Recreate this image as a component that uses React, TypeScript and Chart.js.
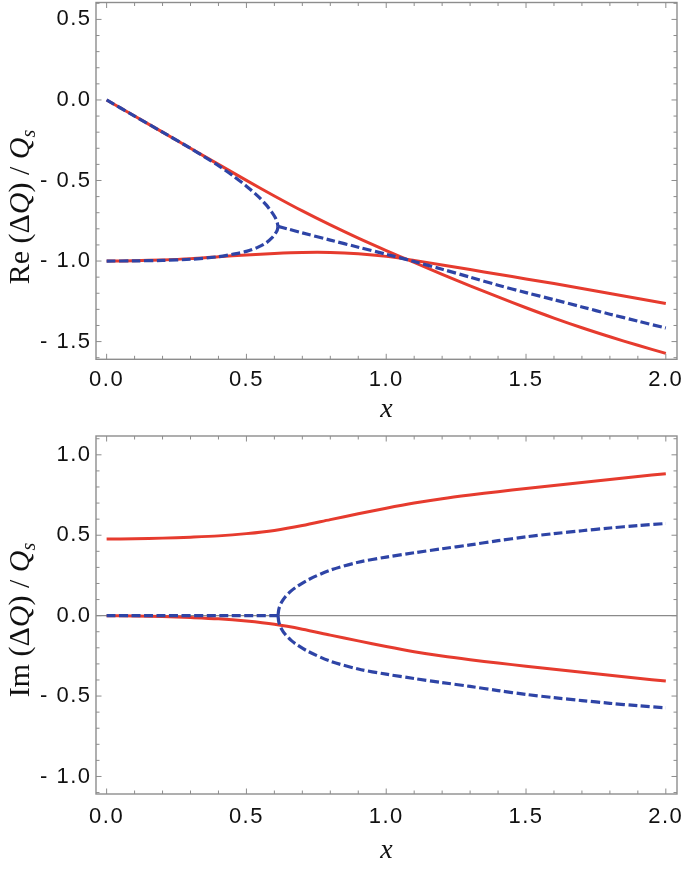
import React, { useEffect, useRef } from "react";
import { Chart, registerables } from "chart.js";
Chart.register(...registerables);

// ---------- data ----------
const xGrid = [0, 0.1, 0.2, 0.3, 0.4, 0.5, 0.6, 0.7, 0.8, 0.9, 1.0, 1.1, 1.2, 1.3, 1.4, 1.5, 1.6, 1.7, 1.8, 1.9, 2.0];

// Re panel, red solid curves
const reRedA = [0, -0.1, -0.2, -0.3, -0.4, -0.499, -0.596, -0.689, -0.776, -0.858, -0.935, -1.009, -1.083, -1.154, -1.223, -1.29, -1.354, -1.414, -1.47, -1.523, -1.573];
const reRedB = [-1.0, -0.998, -0.993, -0.985, -0.973, -0.962, -0.953, -0.947, -0.947, -0.955, -0.971, -0.996, -1.024, -1.053, -1.082, -1.111, -1.14, -1.17, -1.201, -1.232, -1.263];

// Re panel, blue dashed curves
const reBlueUpperX = [0, 0.1, 0.2, 0.3, 0.35, 0.4, 0.45, 0.5, 0.54, 0.57, 0.59, 0.603, 0.61, 0.613];
const reBlueUpperY = [0, -0.1, -0.2, -0.3, -0.353, -0.408, -0.468, -0.535, -0.595, -0.65, -0.695, -0.73, -0.76, -0.785];
const reBlueLowerX = [0, 0.1, 0.2, 0.3, 0.4, 0.45, 0.5, 0.54, 0.57, 0.59, 0.603, 0.61, 0.613];
const reBlueLowerY = [-1.0, -0.999, -0.996, -0.989, -0.973, -0.958, -0.94, -0.915, -0.888, -0.858, -0.83, -0.81, -0.785];
const reBlueMergedX = [0.613, 0.65, 0.7, 0.8, 0.9, 1.0, 1.1, 1.2, 1.3, 1.4, 1.5, 1.6, 1.7, 1.8, 1.9, 2.0];
const reBlueMergedY = [-0.785, -0.802, -0.825, -0.87, -0.914, -0.958, -1.003, -1.051, -1.1, -1.15, -1.196, -1.24, -1.285, -1.33, -1.373, -1.416];

// Im panel, red solid curves
const imRedUpper = [0.476, 0.478, 0.482, 0.488, 0.496, 0.51, 0.53, 0.56, 0.597, 0.633, 0.668, 0.7, 0.727, 0.75, 0.771, 0.79, 0.809, 0.828, 0.846, 0.865, 0.883];
const imRedLower = [0, -0.002, -0.006, -0.012, -0.02, -0.034, -0.054, -0.084, -0.121, -0.157, -0.192, -0.224, -0.251, -0.274, -0.295, -0.314, -0.333, -0.352, -0.37, -0.389, -0.407];

// Im panel, blue dashed curves
const imBlueZeroX = [0, 0.613];
const imBlueZeroY = [0, 0];
const imBlueX = [0.613, 0.616, 0.625, 0.64, 0.66, 0.68, 0.72, 0.8, 0.9, 1.0, 1.1, 1.2, 1.3, 1.4, 1.5, 1.6, 1.7, 1.8, 1.9, 2.0];
const imBlueUpper = [0, 0.041, 0.081, 0.119, 0.154, 0.18, 0.222, 0.283, 0.332, 0.364, 0.391, 0.416, 0.44, 0.466, 0.49, 0.51, 0.528, 0.545, 0.56, 0.573];
const imBlueLower = [0, -0.041, -0.081, -0.119, -0.154, -0.18, -0.222, -0.283, -0.332, -0.364, -0.391, -0.416, -0.44, -0.466, -0.49, -0.51, -0.528, -0.545, -0.56, -0.573];

// ticks
const xTicks = [0, 0.5, 1.0, 1.5, 2.0];
const reTicks = [-1.5, -1.0, -0.5, 0, 0.5];
const imTicks = [-1.0, -0.5, 0, 0.5, 1.0];

// ---------- styling ----------
const RED = "#e63b2e";
const BLUE = "#2e44a6";
const FRAME = "#8d8d8d";
const W = 685;
const SERIF = "'Liberation Serif', 'Times New Roman', serif";
const SANS = "'Liberation Sans', Arial, sans-serif";

const pts = (xs: number[], ys: number[]) => xs.map((x, i) => ({ x, y: ys[i] }));

const fmt = (v: number) => (v < 0 ? "- " + Math.abs(v).toFixed(1) : v.toFixed(1));

type Seg = { t: string; italic?: boolean; sub?: boolean };

function framePlugin(opts: {
  yLabel: Seg[];
  yLabelCenter: number;
  xLabelBaseline: number;
  zeroLine: boolean;
}) {
  return {
    id: "frameAndLabels",
    beforeDraw(chart: any) {
      (chart.ctx as any).letterSpacing = "1.5px";
    },
    beforeDatasetsDraw(chart: any) {
      if (!opts.zeroLine) return;
      const { ctx, chartArea: a, scales } = chart;
      const y0 = scales.y.getPixelForValue(0);
      ctx.save();
      ctx.strokeStyle = "#8a8a8a";
      ctx.lineWidth = 1.2;
      ctx.beginPath();
      ctx.moveTo(a.left, y0);
      ctx.lineTo(a.right, y0);
      ctx.stroke();
      ctx.restore();
    },
    afterDraw(chart: any) {
      const { ctx, chartArea: a, scales } = chart;
      (ctx as any).letterSpacing = "0px";
      const xs = scales.x;
      const ys = scales.y;
      ctx.save();
      // frame
      ctx.strokeStyle = FRAME;
      ctx.lineWidth = 1.4;
      ctx.strokeRect(a.left, a.top, a.right - a.left, a.bottom - a.top);
      // ticks (inward, on all four sides)
      ctx.lineWidth = 1;
      ctx.beginPath();
      for (let i = 0; i <= 20; i++) {
        const px = xs.getPixelForValue(i / 10);
        const len = i % 5 === 0 ? 5.5 : 3.5;
        ctx.moveTo(px, a.bottom);
        ctx.lineTo(px, a.bottom - len);
        ctx.moveTo(px, a.top);
        ctx.lineTo(px, a.top + len);
      }
      for (let i = -30; i <= 30; i++) {
        const v = i / 10;
        if (v < ys.min || v > ys.max) continue;
        const py = ys.getPixelForValue(v);
        const len = i % 5 === 0 ? 5.5 : 3.5;
        ctx.moveTo(a.left, py);
        ctx.lineTo(a.left + len, py);
        ctx.moveTo(a.right, py);
        ctx.lineTo(a.right - len, py);
      }
      ctx.stroke();

      // x title
      ctx.fillStyle = "#111";
      ctx.font = "italic 28px " + SERIF;
      ctx.textAlign = "center";
      ctx.textBaseline = "alphabetic";
      ctx.fillText("x", (a.left + a.right) / 2, opts.xLabelBaseline);

      // y title, rotated, mixed fonts
      const fontFor = (s: Seg) => (s.italic ? "italic " : "") + (s.sub ? "20px " : "30px ") + SERIF;
      let total = 0;
      const widths = opts.yLabel.map((s) => {
        ctx.font = fontFor(s);
        const w = ctx.measureText(s.t).width;
        total += w;
        return w;
      });
      ctx.translate(28.5, opts.yLabelCenter);
      ctx.rotate(-Math.PI / 2);
      ctx.textAlign = "left";
      let x = -total / 2;
      opts.yLabel.forEach((s, i) => {
        ctx.font = fontFor(s);
        ctx.fillText(s.t, x, s.sub ? 6 : 0);
        x += widths[i];
      });
      ctx.restore();
    },
  };
}

function lineDs(data: any[], color: string, dashed: boolean) {
  return {
    data,
    showLine: true,
    borderColor: color,
    backgroundColor: color,
    borderWidth: dashed ? 3.2 : 3,
    borderDash: dashed ? [9, 3.5] : [],
    borderCapStyle: "butt",
    pointRadius: 0,
    tension: 0.3,
    fill: false,
  };
}

function makeConfig(p: {
  datasets: any[];
  yMin: number;
  yMax: number;
  yTicks: number[];
  height: number;
  areaTop: number;
  areaBottom: number;
  xPad: number;
  plugin: any;
}) {
  return {
    type: "scatter",
    data: { datasets: p.datasets },
    options: {
      responsive: false,
      animation: false,
      events: [],
      layout: { autoPadding: false, padding: { top: p.areaTop, right: W - 677, left: 0, bottom: 0 } },
      plugins: { legend: { display: false }, tooltip: { enabled: false } },
      scales: {
        x: {
          type: "linear",
          min: -0.038,
          max: 2.04,
          grid: { display: false, drawTicks: false },
          border: { display: false },
          afterBuildTicks: (s: any) => {
            s.ticks = xTicks.map((v) => ({ value: v }));
          },
          afterFit: (s: any) => {
            s.height = p.height - p.areaBottom;
            s.paddingLeft = 0;
            s.paddingRight = 0;
          },
          ticks: {
            padding: p.xPad,
            maxRotation: 0,
            autoSkip: false,
            color: "#111",
            font: { family: SANS, size: 22 },
            callback: (v: any) => Number(v).toFixed(1),
          },
        },
        y: {
          type: "linear",
          min: p.yMin,
          max: p.yMax,
          grid: { display: false, drawTicks: false },
          border: { display: false },
          afterBuildTicks: (s: any) => {
            s.ticks = p.yTicks.map((v) => ({ value: v }));
          },
          afterFit: (s: any) => {
            s.width = 96;
            s.paddingTop = 0;
            s.paddingBottom = 0;
          },
          ticks: {
            padding: 4.5,
            autoSkip: false,
            color: "#111",
            font: { family: SANS, size: 22 },
            callback: (v: any) => fmt(Number(v)),
          },
        },
      },
    },
    plugins: [p.plugin],
  };
}

export default function App() {
  const topRef = useRef<HTMLCanvasElement>(null);
  const botRef = useRef<HTMLCanvasElement>(null);

  useEffect(() => {
    document.body.style.margin = "0";
    const topH = 430;
    const botH = 439;
    const top = new Chart(
      topRef.current as HTMLCanvasElement,
      makeConfig({
        datasets: [
          lineDs(pts(reBlueUpperX, reBlueUpperY), BLUE, true),
          lineDs(pts(reBlueLowerX, reBlueLowerY), BLUE, true),
          lineDs(pts(reBlueMergedX, reBlueMergedY), BLUE, true),
          lineDs(pts(xGrid, reRedA), RED, false),
          lineDs(pts(xGrid, reRedB), RED, false),
        ],
        yMin: -1.61,
        yMax: 0.605,
        yTicks: reTicks,
        height: topH,
        areaTop: 2.5,
        areaBottom: 359.3,
        xPad: 7.5,
        plugin: framePlugin({
          yLabel: [
            { t: "Re (Δ" },
            { t: "Q", italic: true },
            { t: ") / " },
            { t: "Q", italic: true },
            { t: "s", italic: true, sub: true },
          ],
          yLabelCenter: 207,
          xLabelBaseline: 417,
          zeroLine: false,
        }),
      }) as any
    );
    const bot = new Chart(
      botRef.current as HTMLCanvasElement,
      makeConfig({
        datasets: [
          lineDs(pts(imBlueZeroX, imBlueZeroY), BLUE, true),
          lineDs(pts(imBlueX, imBlueUpper), BLUE, true),
          lineDs(pts(imBlueX, imBlueLower), BLUE, true),
          lineDs(pts(xGrid, imRedUpper), RED, false),
          lineDs(pts(xGrid, imRedLower), RED, false),
        ],
        yMin: -1.109,
        yMax: 1.117,
        yTicks: imTicks,
        height: botH,
        areaTop: 6,
        areaBottom: 364,
        xPad: 9.5,
        plugin: framePlugin({
          yLabel: [
            { t: "Im (Δ" },
            { t: "Q", italic: true },
            { t: ") / " },
            { t: "Q", italic: true },
            { t: "s", italic: true, sub: true },
          ],
          yLabelCenter: 190,
          xLabelBaseline: 428,
          zeroLine: true,
        }),
      }) as any
    );
    return () => {
      top.destroy();
      bot.destroy();
    };
  }, []);

  return (
    <div style={{ position: "relative", width: W, height: 869, background: "#fff" }}>
      <canvas ref={topRef} width={W} height={430} style={{ position: "absolute", left: 0, top: 0 }} />
      <canvas ref={botRef} width={W} height={439} style={{ position: "absolute", left: 0, top: 430 }} />
    </div>
  );
}
